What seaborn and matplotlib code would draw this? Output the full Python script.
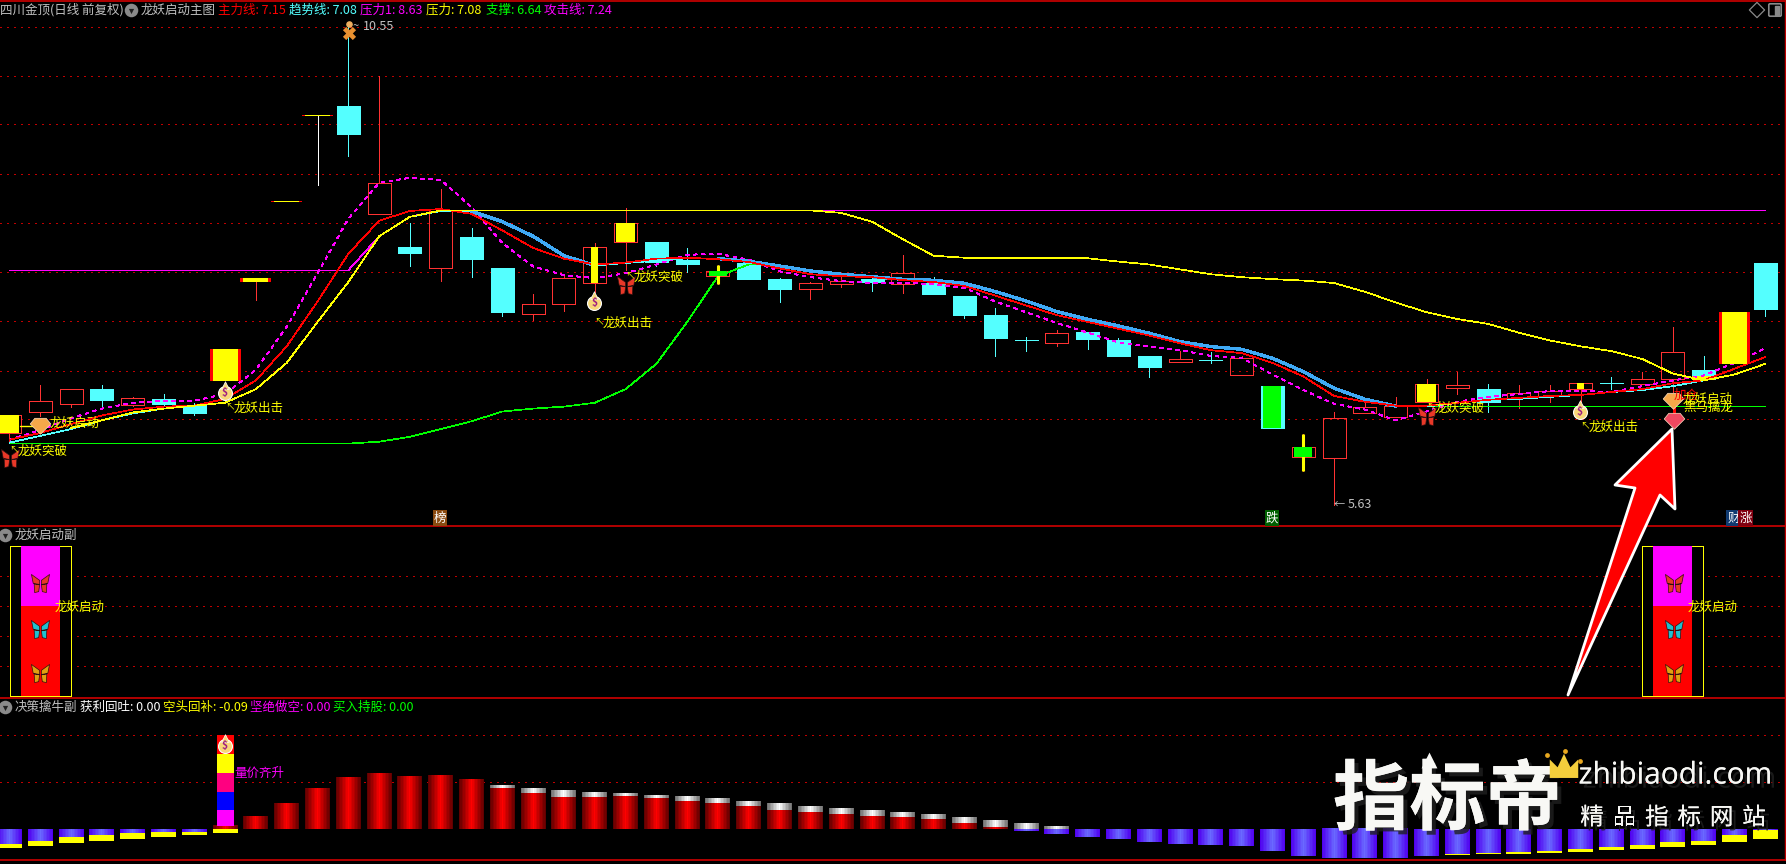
import numpy as np
import pandas as pd
import matplotlib
matplotlib.use("Agg")
import matplotlib.pyplot as plt
import matplotlib.patheffects as pe
from matplotlib.colors import ListedColormap
from matplotlib.patches import Polygon, Rectangle, FancyBboxPatch
from matplotlib.path import Path
import seaborn as sns

# candles (price)
body_top = [6.55, 6.70, 6.82, 6.82, 6.73, 6.72, 6.66, 7.23, 7.96, 8.755, 9.64, 9.73, 8.94, 8.28, 8.65,
            8.38, 8.06, 7.69, 7.96, 8.28, 8.53, 8.33, 8.15, 8.03, 8.12, 7.95, 7.91, 7.93, 7.955, 8.01,
            7.91, 7.78, 7.58, 7.32, 7.40, 7.41, 7.32, 7.16, 7.13, 7.12, 7.14, 6.85, 6.23, 6.52, 6.64,
            6.65, 6.87, 6.86, 6.82, 6.78, 6.80, 6.88, 6.88, 6.92, 7.20, 7.02, 7.61, 8.12]
body_bot = [6.37, 6.58, 6.67, 6.71, 6.66, 6.67, 6.57, 6.90, 7.92, 8.745, 9.63, 9.44, 8.62, 8.22, 8.06,
            8.16, 7.61, 7.59, 7.69, 7.91, 8.33, 8.13, 8.11, 7.98, 7.95, 7.85, 7.85, 7.90, 7.92, 7.90,
            7.80, 7.58, 7.34, 7.32, 7.29, 7.33, 7.16, 7.05, 7.10, 7.12, 6.97, 6.42, 6.12, 6.11, 6.57,
            6.53, 6.69, 6.83, 6.69, 6.73, 6.75, 6.82, 6.88, 6.87, 6.92, 6.92, 7.08, 7.64]
high = [6.55, 6.86, 6.82, 6.86, 6.74, 6.77, 6.68, 7.23, 7.96, 8.755, 9.64, 10.55, 10.04, 8.53, 8.88,
        8.48, 8.06, 7.80, 7.98, 8.32, 8.68, 8.33, 8.27, 8.09, 8.12, 7.96, 7.92, 7.98, 7.96, 8.20,
        7.97, 7.78, 7.65, 7.36, 7.43, 7.41, 7.34, 7.16, 7.21, 7.20, 7.16, 6.85, 6.36, 6.59, 6.71,
        6.74, 6.92, 7.00, 6.87, 6.86, 6.86, 6.88, 6.94, 7.00, 7.46, 7.16, 7.61, 8.12]
low = [6.28, 6.54, 6.64, 6.65, 6.65, 6.65, 6.55, 6.90, 7.74, 8.745, 8.92, 9.21, 8.62, 8.08, 7.93,
       7.97, 7.57, 7.53, 7.62, 7.82, 8.04, 8.08, 8.02, 7.90, 7.95, 7.72, 7.75, 7.87, 7.83, 7.81,
       7.80, 7.55, 7.16, 7.21, 7.26, 7.23, 7.16, 6.94, 7.10, 7.09, 6.97, 6.42, 5.98, 5.63, 6.57,
       6.53, 6.69, 6.77, 6.58, 6.63, 6.69, 6.69, 6.82, 6.87, 6.79, 6.92, 7.08, 7.57]
is_down = [0, 0, 0, 1, 0, 1, 1, 0, 0, 0, 0, 1, 0, 1, 0, 1, 1, 0, 0, 0, 0, 1, 1, 0, 1, 1, 0, 0, 1, 0,
           1, 1, 1, 1, 0, 1, 1, 1, 0, 1, 0, 1, 0, 0, 0, 0, 0, 0, 1, 0, 0, 0, 1, 0, 0, 1, 0, 1]

# days that get an extra fill on top of the candle
wide_yellow_days = [7, 8, 9, 10, 56]
boxed_yellow_days = [0, 20, 46]
narrow_yellow_days = [19, 51]
boxed_green_days = [23, 42]
cyan_green_days = [41]
yellow_tail_day = (55, 6.955, 6.918)

# indicator lines
main_line = [6.30, 6.37, 6.46, 6.55, 6.61, 6.64, 6.65, 6.72, 6.91, 7.26, 7.72, 8.21, 8.55, 8.65, 8.67,
             8.62, 8.45, 8.27, 8.16, 8.10, 8.12, 8.16, 8.17, 8.154, 8.126, 8.06, 8.00, 7.98, 7.97, 7.94,
             7.92, 7.88, 7.78, 7.68, 7.58, 7.51, 7.44, 7.37, 7.29, 7.22, 7.19, 7.09, 6.95, 6.75, 6.69,
             6.65, 6.65, 6.68, 6.71, 6.73, 6.75, 6.76, 6.79, 6.82, 6.88, 6.91, 7.03, 7.15]
trend_line = [6.27, 6.34, 6.41, 6.50, 6.57, 6.62, 6.65, 6.68, 6.82, 7.09, 7.51, 7.92, 8.39, 8.59, 8.65,
              8.646, 8.54, 8.39, 8.19, 8.09, 8.115, 8.14, 8.164, 8.161, 8.133, 8.085, 8.034, 8.00, 7.975, 7.948,
              7.938, 7.907, 7.822, 7.726, 7.616, 7.537, 7.469, 7.394, 7.308, 7.257, 7.229, 7.137, 7.00, 6.829, 6.716,
              6.645, 6.64, 6.68, 6.71, 6.72, 6.74, 6.76, 6.79, 6.81, 6.85, 6.91, 6.97, 7.08]
press_line = [np.nan, np.nan, 6.42, 6.50, 6.58, 6.62, 6.65, 6.68, 6.82, 7.09, 7.51, 7.92, 8.39, 8.59, 8.655,
              8.656, 8.656, 8.656, 8.656, 8.656, 8.656, 8.656, 8.656, 8.656, 8.656, 8.656, 8.656, 8.63, 8.54, 8.36,
              8.19, 8.17, 8.164, 8.164, 8.164, 8.164, 8.13, 8.10, 8.05, 8.00, 7.97, 7.95, 7.935, 7.91, 7.82,
              7.71, 7.61, 7.54, 7.49, 7.40, 7.32, 7.26, 7.21, 7.13, 6.98, 6.91, 6.97, 7.08]
press1_line = [8.04, 8.04, 8.04, 8.04, 8.04, 8.04, 8.04, 8.04, 8.04, 8.04, 8.04, 8.04, 8.39, 8.59, 8.656,
               8.656, 8.656, 8.656, 8.656, 8.656, 8.656, 8.656, 8.656, 8.656, 8.656, 8.656, 8.656, 8.656, 8.656, 8.656,
               8.656, 8.656, 8.656, 8.656, 8.656, 8.656, 8.656, 8.656, 8.656, 8.656, 8.656, 8.656, 8.656, 8.656, 8.656,
               8.656, 8.656, 8.656, 8.656, 8.656, 8.656, 8.656, 8.656, 8.656, 8.656, 8.656, 8.656, 8.656]
attack_line = [6.30, 6.40, 6.52, 6.62, 6.68, 6.70, 6.70, 6.77, 7.02, 7.46, 8.01, 8.57, 8.94, 8.99, 8.97,
               8.69, 8.32, 8.08, 7.99, 7.96, 8.01, 8.10, 8.20, 8.21, 8.15, 8.03, 7.97, 7.93, 7.91, 7.91,
               7.90, 7.86, 7.72, 7.61, 7.50, 7.40, 7.30, 7.26, 7.22, 7.16, 7.14, 6.97, 6.81, 6.67, 6.61,
               6.50, 6.59, 6.69, 6.74, 6.77, 6.80, 6.80, 6.79, 6.85, 6.91, 6.96, 7.09, 7.24]
support_line = [6.26, 6.26, 6.26, 6.26, 6.26, 6.26, 6.26, 6.26, 6.26, 6.26, 6.26, 6.26, 6.28, 6.33, 6.41,
                6.49, 6.59, 6.62, 6.64, 6.68, 6.82, 7.08, 7.51, 7.98, 8.10, 8.10, np.nan, np.nan, np.nan, np.nan,
                np.nan, np.nan, np.nan, np.nan, np.nan, np.nan, np.nan, np.nan, np.nan, np.nan, np.nan, np.nan, np.nan, np.nan, np.nan,
                6.65, 6.65, 6.65, 6.65, 6.65, 6.65, 6.65, 6.65, 6.65, 6.65, 6.65, 6.65, 6.65]
main_grid = [10.54, 10.04, 9.54, 9.03, 8.53, 8.02, 7.52, 7.01, 6.51]

# middle panel
signal_days = [1, 54]
signal_red = 60
signal_top = 100
mid_grid = [80, 60, 40, 20]

# bottom panel
red_top = [0, 0, 0, 0, 0, 0, 0, 0.03, 0.111, 0.228, 0.363, 0.462, 0.498, 0.471, 0.48,
           0.444, 0.372, 0.327, 0.291, 0.291, 0.30, 0.282, 0.255, 0.237, 0.21, 0.174, 0.156, 0.138, 0.12, 0.111,
           0.093, 0.057, 0.021, 0, 0, 0, 0, 0, 0, 0, 0, 0, 0, 0, 0,
           0, 0, 0, 0, 0, 0, 0, 0, 0, 0, 0, 0, 0]
white_top = [0, 0, 0, 0, 0, 0, 0, 0.03, 0.111, 0.228, 0.363, 0.462, 0.498, 0.471, 0.48,
             0.444, 0.399, 0.372, 0.354, 0.336, 0.327, 0.306, 0.297, 0.279, 0.252, 0.234, 0.207, 0.189, 0.171, 0.153,
             0.135, 0.108, 0.081, 0.054, 0.027, 0, 0, 0, 0, 0, 0, 0, 0, 0, 0,
             0, 0, 0, 0, 0, 0, 0, 0, 0, 0, 0, 0, 0]
blue_bot = [-0.132, -0.105, -0.069, -0.051, -0.033, -0.024, -0.021, 0, 0, 0, 0, 0, 0, 0, 0,
            0, 0, 0, 0, 0, 0, 0, 0, 0, 0, 0, 0, 0, 0, 0,
            0, 0, 0, -0.018, -0.045, -0.072, -0.09, -0.117, -0.135, -0.144, -0.153, -0.198, -0.243, -0.261, -0.261,
            -0.261, -0.243, -0.225, -0.216, -0.207, -0.198, -0.18, -0.162, -0.144, -0.117, -0.108, -0.054, -0.009]
yellow_bot = [-0.168, -0.15, -0.123, -0.105, -0.087, -0.069, -0.051, -0.033, 0, 0, 0, 0, 0, 0, 0,
              0, 0, 0, 0, 0, 0, 0, 0, 0, 0, 0, 0, 0, 0, 0,
              0, 0, 0, -0.018, -0.045, -0.072, -0.09, -0.117, -0.135, -0.144, -0.153, -0.198, -0.243, -0.261, -0.261,
              -0.261, -0.243, -0.234, -0.225, -0.225, -0.216, -0.207, -0.189, -0.18, -0.162, -0.144, -0.117, -0.09]
stack_day = 7
stack_edges = [0.03, 0.174, 0.336, 0.507, 0.678, 0.849]
stack_colors = ["#FF00FF", "#0000FF", "#FF0080", "#FFFF00", "#FF0000"]
low_grid = [0.425, 0.85]

CJK = ["Noto Sans CJK SC", "DejaVu Sans"]
RED = "#FF3232"
CYAN = "#54FFFF"
YELLOW = "#FFFF00"
MAGENTA = "#FF00FF"
GREEN = "#00FF00"
FRAME = "#C00000"
GRID = "#C00000"
GRAY = "#C0C0C0"
THIN = 0.5  # aliased lines come out one pixel wide at this weight

sns.set_theme(style="dark", rc={"figure.facecolor": "black", "axes.facecolor": "black"})
plt.rcParams["font.family"] = CJK

W, H = 1786, 864
days = np.arange(len(body_top))
XLIM = (-0.308, 57.67)
PX = 1 / 30.805  # one pixel in day units


def panel(fig, top, bottom, ylim):
    ax = fig.add_axes([0, (H - bottom) / H, 1, (bottom - top) / H])
    ax.set_axis_off()
    ax.set_xlim(*XLIM)
    ax.set_ylim(*ylim)
    return ax


def dotted(ax, levels):
    for level in levels:
        ax.axhline(level, color=GRID, lw=THIN, ls=(0, (2, 8)), zorder=0, antialiased=False)


def draw_line(ax, values, color, lw, ls="-", zorder=3):
    df = pd.DataFrame({"day": days, "price": values})
    df["run"] = df["price"].isna().cumsum()
    for _, run in df.dropna().groupby("run"):
        sns.lineplot(data=run, x="day", y="price", color=color, linewidth=lw, linestyle=ls,
                     estimator=None, sort=False, legend=False, ax=ax, zorder=zorder, antialiased=False)


def draw_trend(ax):
    # thick blue while the trend is above the main line, thin cyan otherwise
    above = np.array(trend_line) > np.array(main_line)
    start = 0
    for i in range(1, len(days)):
        if i == len(days) - 1 or above[i] != above[start]:
            part = [trend_line[k] if start <= k <= i else np.nan for k in days]
            if above[start]:
                draw_line(ax, part, "#3FA9F5", 1.7, zorder=3.2)
            else:
                draw_line(ax, part, CYAN, THIN, zorder=3.2)
            start = i


def draw_candles(ax):
    w = 23 * PX
    for i in days:
        top, bot = body_top[i], body_bot[i]
        color = CYAN if is_down[i] else RED
        if i == 10:
            wick = "white"
        else:
            wick = color
        ax.vlines(i, top, high[i], color=wick, lw=THIN, zorder=1, antialiased=False)
        ax.vlines(i, low[i], bot, color=wick, lw=THIN, zorder=1, antialiased=False)
        if is_down[i]:
            ax.bar(i, top - bot, w, bot, facecolor=CYAN, edgecolor=CYAN, lw=THIN, zorder=2, antialiased=False)
        elif i not in wide_yellow_days:
            ax.bar(i, top - bot, w, bot, facecolor="none", edgecolor=RED, lw=THIN, zorder=2, antialiased=False)
    for i in wide_yellow_days:
        h = body_top[i] - body_bot[i]
        ax.bar(i, h, 31 * PX, body_bot[i], color="#FF0000", lw=0, zorder=4)
        ax.bar(i, h, 25 * PX, body_bot[i], color=YELLOW, lw=0, zorder=4.1)
    for i in boxed_yellow_days:
        h = body_top[i] - body_bot[i]
        ax.bar(i, h, 19 * PX, body_bot[i], color=YELLOW, lw=0, zorder=4)
    for i in narrow_yellow_days:
        h = body_top[i] - body_bot[i]
        ax.bar(i, h, 7 * PX, body_bot[i], color=YELLOW, lw=0, zorder=4)
    for i in boxed_green_days:
        h = body_top[i] - body_bot[i]
        ax.vlines(i, low[i], high[i], color=YELLOW, lw=2.2, zorder=4)
        ax.bar(i, h, 18 * PX, body_bot[i], color=GREEN, lw=0, zorder=4.1)
    for i in cyan_green_days:
        h = body_top[i] - body_bot[i]
        ax.bar(i, h, 18 * PX, body_bot[i], color=GREEN, lw=0, zorder=4)
    d, t, b = yellow_tail_day
    ax.bar(d, t - b, 23 * PX, b, color=YELLOW, lw=0, zorder=2.5)


def gradient_bar(ax, x, width, bottom, top, cmap, zorder=2):
    if top == bottom:
        return
    ramp = np.array([[0, 1, 2, 3, 4, 5, 6, 7, 8, 7, 6, 5, 4, 3, 2, 1, 0]]) / 8
    ax.imshow(ramp, extent=[x - width / 2, x + width / 2, bottom, top], aspect="auto",
              cmap=cmap, vmin=0, vmax=1, interpolation="nearest", zorder=zorder)


def ramp_cmap(dark, bright):
    return ListedColormap(sns.blend_palette([dark, bright], 9))


def draw_volume(ax):
    w = 25 * PX
    reds = ramp_cmap("#600000", "#FF0000")
    whites = ramp_cmap("#707070", "#FFFFFF")
    blues = ramp_cmap("#5000F0", "#6A6AFF")
    for i in days:
        gradient_bar(ax, i, w, 0, red_top[i], reds)
        gradient_bar(ax, i, w, red_top[i], white_top[i], whites)
        gradient_bar(ax, i, w, blue_bot[i], 0, blues)
        if yellow_bot[i] < blue_bot[i]:
            ax.bar(i, blue_bot[i] - yellow_bot[i], w, yellow_bot[i], color=YELLOW, lw=0, zorder=2.5)
    for lo, hi, c in zip(stack_edges[:-1], stack_edges[1:], stack_colors):
        ax.bar(stack_day, hi - lo, 17 * PX, lo, color=c, lw=0, zorder=3)


def draw_signal(ax):
    for i in signal_days:
        ax.bar(i, signal_top, 61 * PX, 0, facecolor="black", edgecolor=YELLOW, lw=THIN, zorder=2, antialiased=False)
        ax.bar(i, signal_red, 39 * PX, 0, color="#FF0000", lw=0, zorder=3)
        ax.bar(i, signal_top - signal_red, 39 * PX, signal_red, color=MAGENTA, lw=0, zorder=3)


# icon shapes
BUTTERFLY = Path([(-1, 1), (-0.1, 0.35), (-0.1, -0.1), (-0.8, 0.0), (-1, 1),
                  (-0.7, -0.05), (-0.1, -0.15), (-0.2, -0.9), (-0.65, -1), (-0.7, -0.05),
                  (1, 1), (0.1, 0.35), (0.1, -0.1), (0.8, 0.0), (1, 1),
                  (0.7, -0.05), (0.1, -0.15), (0.2, -0.9), (0.65, -1), (0.7, -0.05)],
                 [1, 2, 2, 2, 79] * 4)
GEM = Path([(-0.55, 0.7), (0.55, 0.7), (1, 0.15), (0, -0.85), (-1, 0.15), (-0.55, 0.7)],
           [1, 2, 2, 2, 2, 79])
CROWN = Path([(-1, -0.7), (-1, 0.6), (-0.45, 0.05), (0, 1), (0.45, 0.05), (1, 0.6), (1, -0.7), (-1, -0.7)],
             [1, 2, 2, 2, 2, 2, 2, 79])


def text(ax, x, y, s, color=YELLOW, size=9, **kw):
    kw.setdefault("va", "center")
    kw.setdefault("ha", "left")
    return ax.text(x, y, s, color=color, fontsize=size, family=CJK, zorder=10, **kw)


def butterfly(ax, x, y, color):
    ax.scatter([x], [y], marker=BUTTERFLY, s=170, facecolor=color, edgecolor="#301010", lw=0.5, zorder=9)


def gem(ax, x, y, color):
    ax.scatter([x], [y], marker=GEM, s=220, facecolor=color, edgecolor="#FFE0C0", lw=0.5, zorder=9)


def moneybag(ax, x, y):
    ax.scatter([x], [y + 2], marker="o", s=100, facecolor="#F8D878", edgecolor="white", lw=0.8, zorder=9)
    ax.scatter([x], [y - 6], marker="^", s=30, facecolor="#F8D878", edgecolor="white", lw=0.5, zorder=9)
    text(ax, x, y + 2, "$", color="#A02080", size=7.5, ha="center", fontweight="bold")


def chevron(ax, x, y):
    ax.scatter([x], [y], s=95, color="#8A8A8A", lw=0, zorder=9)
    ax.scatter([x], [y + 0.5], marker="v", s=14, color="#202020", lw=0, zorder=9.5)


def tag(ax, x, y, s, bg):
    text(ax, x, y, s, color="white", size=9, ha="center",
         bbox=dict(facecolor=bg, edgecolor="none", pad=0.8))


def draw_overlay(ov):
    # title rows
    chevron(ov, 131, 10)
    chevron(ov, 5, 535)
    chevron(ov, 5, 707)
    text(ov, 0, 10, "四川金顶(日线 前复权)", color=GRAY)
    text(ov, 141, 10, "龙妖启动主图", color=GRAY)
    text(ov, 218, 10, "主力线: 7.15", color="#FF0000")
    text(ov, 289, 10, "趋势线: 7.08", color=CYAN)
    text(ov, 360, 10, "压力1: 8.63", color=MAGENTA)
    text(ov, 426, 10, "压力: 7.08", color=YELLOW)
    text(ov, 486, 10, "支撑: 6.64", color=GREEN)
    text(ov, 544.5, 10, "攻击线: 7.24", color=MAGENTA)
    text(ov, 15, 535, "龙妖启动副", color=GRAY)
    text(ov, 15, 707, "决策擒牛副", color=GRAY)
    text(ov, 79.5, 707, "获利回吐: 0.00", color="white")
    text(ov, 163, 707, "空头回补: -0.09", color=YELLOW)
    text(ov, 249.5, 707, "坚绝做空: 0.00", color=MAGENTA)
    text(ov, 333, 707, "买入持股: 0.00", color=GREEN)

    # corner icons
    ov.scatter([1757], [10], marker="D", s=60, facecolor="none", edgecolor="#8A8A8A", lw=0.9, zorder=9)
    ov.add_patch(FancyBboxPatch((1770, 5), 10, 10, boxstyle="round,pad=1.2", facecolor="none",
                                edgecolor="#8A8A8A", lw=1.2, zorder=9))
    ov.add_patch(Rectangle((1775, 6), 4, 9, color="#8A8A8A", zorder=9))

    # price extremes
    ov.scatter([349], [24], marker="o", s=14, color="#F0B060", zorder=9)
    ov.scatter([349], [33], marker="X", s=90, color="#E89030", lw=0, zorder=9)
    text(ov, 353, 26, "~", color=GRAY, size=8)
    text(ov, 362.5, 27, "10.55", color=GRAY)
    text(ov, 1334, 505, "←", color=GRAY, size=8)
    text(ov, 1347.5, 505, "5.63", color=GRAY)

    # signals on the main panel
    for x, y in [(18, 451), (634, 277), (1435, 408)]:
        text(ov, x, y, "龙妖突破")
        text(ov, x - 9, y - 2, "↖", size=7)
    for x, y in [(234, 408), (603, 323), (1589, 427)]:
        text(ov, x, y, "龙妖出击")
        text(ov, x - 9, y - 2, "↖", size=7)
    butterfly(ov, 9.5, 458, "#E83828")
    butterfly(ov, 625.7, 285, "#E83828")
    butterfly(ov, 1426.5, 416, "#E83828")
    moneybag(ov, 225, 391)
    moneybag(ov, 594.3, 301)
    moneybag(ov, 1580, 410)
    ov.plot([20, 36], [426, 426], color=YELLOW, lw=1, zorder=5)
    gem(ov, 40, 425, "#F5A84A")
    text(ov, 49.5, 423, "龙妖启动")
    text(ov, 1674, 395, "加仓", color="#FF0000")
    ov.plot([1673.5, 1673.5], [400, 413], color="#FF0000", lw=2.2, zorder=8)
    gem(ov, 1673, 400, "#F5A84A")
    gem(ov, 1673.5, 420, "#F04860")
    text(ov, 1683, 399, "龙妖启动")
    text(ov, 1683, 407, "黑马擒龙")
    tag(ov, 440, 518, "榜", "#8A4A10")
    tag(ov, 1272, 518, "跌", "#006000")
    tag(ov, 1733.5, 518, "财", "#103A70")
    tag(ov, 1745.5, 518, "涨", "#800010")

    # middle panel labels
    for x in [40.3, 1673.5]:
        butterfly(ov, x, 583, "#E83828")
        butterfly(ov, x, 629, "#20C0D0")
        butterfly(ov, x, 673, "#E0A010")
    text(ov, 55, 607, "龙妖启动")
    text(ov, 1688, 607, "龙妖启动")

    # bottom panel label
    moneybag(ov, 225, 744)
    text(ov, 234, 773, "量价齐升", color=MAGENTA)

    # big red pointer
    ov.add_patch(Polygon([(1568, 695), (1635, 488), (1615, 485), (1672, 429), (1675, 509), (1660, 495)],
                         closed=True, facecolor="#FF0000", edgecolor="white", lw=2, joinstyle="round", zorder=12))

    # watermark
    shadow = [pe.withSimplePatchShadow(offset=(3, -3), shadow_rgbFace="#202020", alpha=0.8), pe.Normal()]
    logo = text(ov, 1447.5, 801, "指标帝", color="#F8F8F5", size=55, ha="center", fontweight="bold")
    logo.set_path_effects(shadow)
    logo.set_zorder(13)
    ov.scatter([1429], [760], marker="^", s=130, color="#F8F8F5", lw=0, zorder=13)
    ov.scatter([1564], [768], marker=CROWN, s=420, facecolor="#F4CE3C", edgecolor="none", zorder=14)
    ov.scatter([1547, 1565, 1580], [755, 751, 761], s=12, color="#E8A820", lw=0, zorder=14)
    site = ov.text(1675, 776, "zhibiaodi.com", color="#F8F8F5", fontsize=21.5, family="Open Sans",
                   ha="center", va="center", zorder=13)
    site.set_path_effects(shadow)
    for k, ch in enumerate("精品指标网站"):
        cell = text(ov, 1592 + 32.4 * k, 818, ch, color="#F8F8F5", size=17, ha="center")
        cell.set_zorder(13)
        cell.set_path_effects(shadow)

    # panel frames
    for y in [0.8, 526, 698, 860]:
        ov.plot([0, W], [y, y], color=FRAME, lw=1.3, zorder=6)
    ov.plot([1785.2, 1785.2], [0, 860], color=FRAME, lw=1, zorder=6)


def main():
    fig = plt.figure(figsize=(W / 100, H / 100), dpi=100)

    ax_main = panel(fig, 0, 526, (5.414, 10.817))
    dotted(ax_main, main_grid)
    draw_candles(ax_main)
    draw_line(ax_main, press1_line, MAGENTA, THIN, zorder=2.8)
    draw_line(ax_main, support_line, GREEN, THIN, zorder=2.9)
    draw_trend(ax_main)
    draw_line(ax_main, attack_line, MAGENTA, THIN, ls=(0, (5, 6)), zorder=3.1)
    draw_line(ax_main, main_line, "#FF0000", THIN, zorder=3.3)
    draw_line(ax_main, press_line, YELLOW, THIN, zorder=3.4)
    ax_main.set_xlim(*XLIM)
    ax_main.set_ylim(5.414, 10.817)

    ax_mid = panel(fig, 526, 698, (-1.33, 113.33))
    dotted(ax_mid, mid_grid)
    draw_signal(ax_mid)
    ax_mid.set_xlim(*XLIM)
    ax_mid.set_ylim(-1.33, 113.33)

    ax_low = panel(fig, 698, 860, (-0.276, 1.182))
    dotted(ax_low, low_grid)
    draw_volume(ax_low)
    ax_low.set_xlim(*XLIM)
    ax_low.set_ylim(-0.276, 1.182)

    ov = fig.add_axes([0, 0, 1, 1], zorder=20)
    ov.set_axis_off()
    ov.patch.set_visible(False)
    draw_overlay(ov)
    ov.set_xlim(0, W)
    ov.set_ylim(H, 0)

    fig.savefig("out.png", dpi=100, facecolor="black")


if __name__ == "__main__":
    main()
